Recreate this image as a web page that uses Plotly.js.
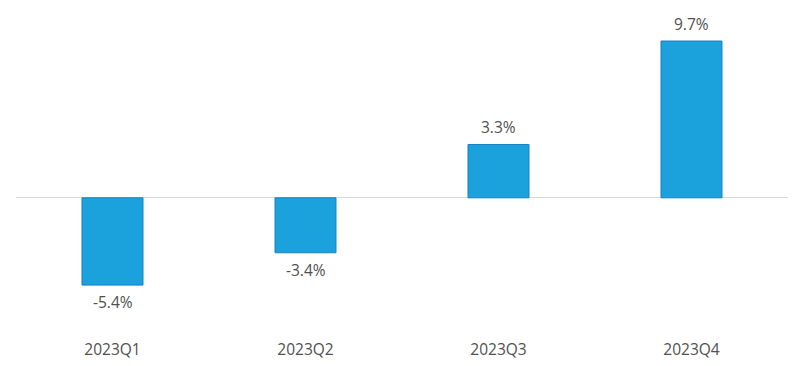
<!DOCTYPE html>
<html>
<head>
<meta charset="utf-8">
<script src="https://cdn.plot.ly/plotly-3.0.1.min.js"></script>
<style>html,body{margin:0;padding:0;background:#fff;}#chart{width:800px;height:366px;}</style>
</head>
<body>
<div id="chart"></div>
<script>
const categories = ["2023Q1", "2023Q2", "2023Q3", "2023Q4"];
const values = [-5.4, -3.4, 3.3, 9.7];
const labels = ["-5.4%", "-3.4%", "3.3%", "9.7%"];

const trace = {
  type: "bar",
  x: categories,
  y: values,
  marker: {color: "#1ba1dc", line: {color: "#1a7fc0", width: 1}},
  hoverinfo: "none"
};

const annotations = categories.map((c, i) => ({
  x: c, y: values[i], text: labels[i], showarrow: false,
  yshift: values[i] >= 0 ? 17 : -17,
  font: {family: "Open Sans, sans-serif", size: 15.5, color: "#505050"}
}));

const layout = {
  width: 800, height: 366,
  margin: {l: 16, r: 12, t: 10, b: 30},
  paper_bgcolor: "#fff", plot_bgcolor: "#fff",
  bargap: 0.684,
  showlegend: false,
  font: {family: "Open Sans, sans-serif", size: 15.5, color: "#505050"},
  xaxis: {showgrid: false, showline: false, ticks: "", zeroline: false, automargin: false, ticklabelstandoff: 2},
  yaxis: {range: [-8.55, 11.62], showgrid: false, zeroline: true, zerolinecolor: "#d9d9d9", zerolinewidth: 1, showticklabels: false, showline: false, ticks: ""},
  annotations: annotations
};

Plotly.newPlot("chart", [trace], layout, {staticPlot: true, displayModeBar: false});
</script>
</body>
</html>
